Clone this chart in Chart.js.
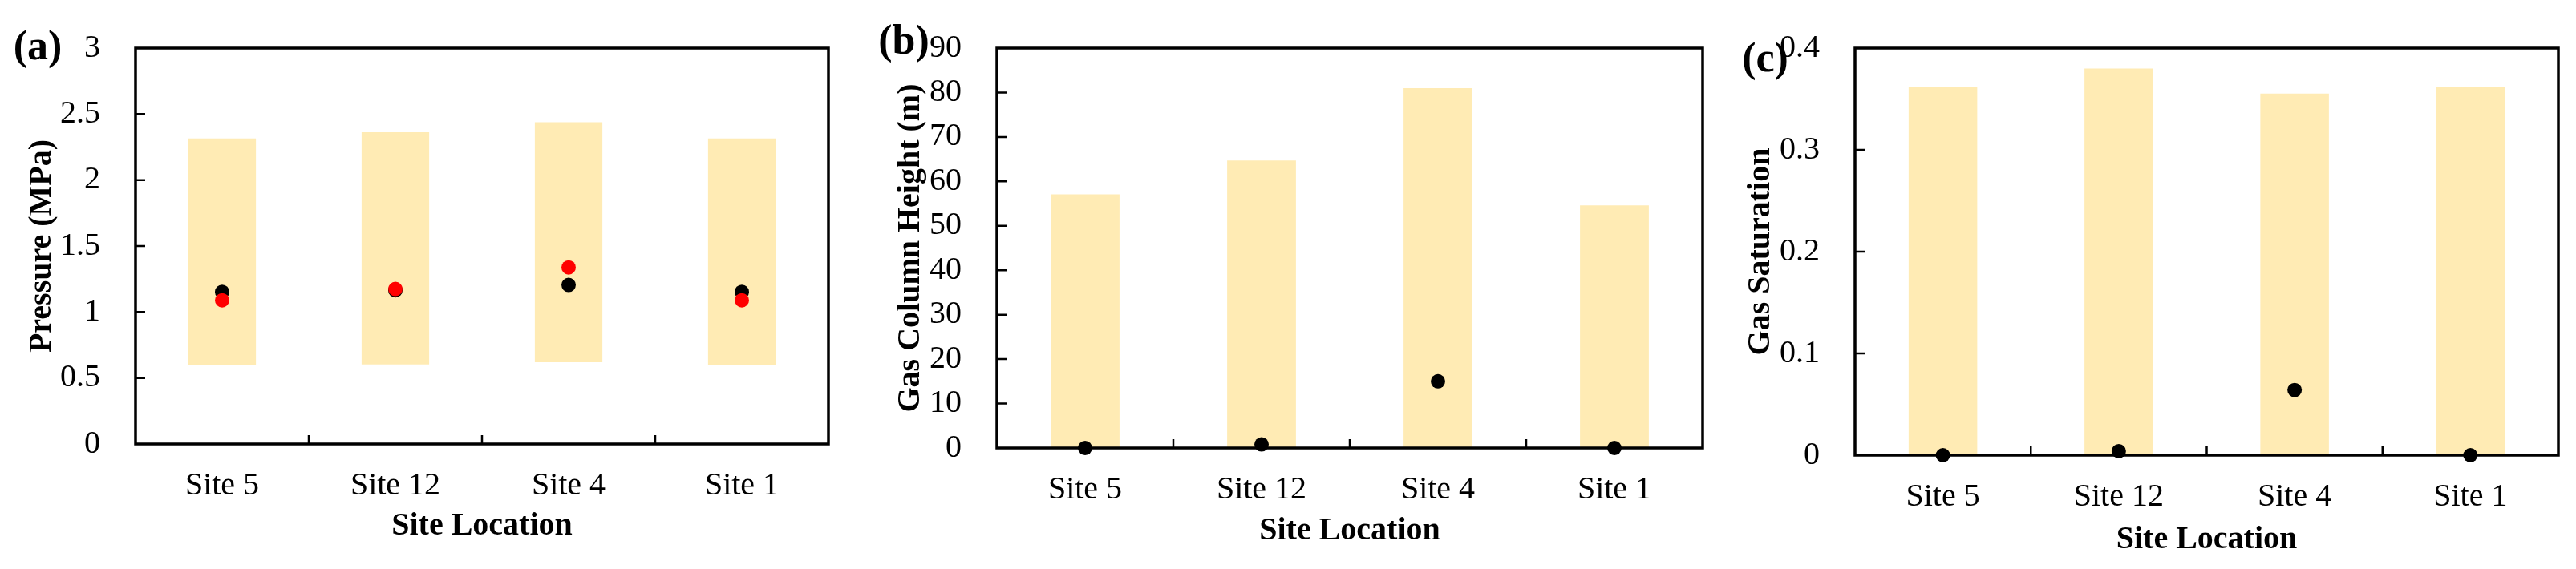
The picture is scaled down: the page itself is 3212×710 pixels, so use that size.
<!DOCTYPE html>
<html>
<head>
<meta charset="utf-8">
<script src="https://cdn.jsdelivr.net/npm/chart.js@4.4.1/dist/chart.umd.min.js"></script>
<style>
  html, body { margin: 0; padding: 0; background: #fff; }
  body { width: 3212px; height: 710px; position: relative; overflow: hidden; }
  canvas { position: absolute; top: 0; }
</style>
</head>
<body>
<canvas id="pa" width="1070" height="710" style="left:0px"></canvas>
<canvas id="pb" width="1070" height="710" style="left:1070px"></canvas>
<canvas id="pc" width="1072" height="710" style="left:2140px"></canvas>
<script>
// sites, in plotted order
var sites = ['Site 5', 'Site 12', 'Site 4', 'Site 1'];

// (a) pressure range (bars) and two point series
var pressLow = [0.595, 0.603, 0.619, 0.595];
var pressHigh = [2.316, 2.362, 2.439, 2.316];
var pressBlack = [1.153, 1.165, 1.205, 1.153];
var pressRed = [1.089, 1.175, 1.338, 1.089];
var pressTicks = [0, 0.5, 1, 1.5, 2, 2.5, 3];

// (b) gas column height
var heightBars = [57.1, 64.7, 81.0, 54.6];
var heightDots = [0, 0.8, 15.0, 0];
var heightTicks = [0, 10, 20, 30, 40, 50, 60, 70, 80, 90];

// (c) gas saturation
var satBars = [0.3616, 0.380, 0.3553, 0.3616];
var satDots = [0, 0.004, 0.064, 0];
var satTicks = [0, 0.1, 0.2, 0.3, 0.4];

const BAR_COLOR = '#FFEBB4';

Chart.defaults.font.family = "'Liberation Serif', 'Times New Roman', serif";
Chart.defaults.font.size = 40;
Chart.defaults.color = '#000';

// frame, inward ticks and the panel letter
const frameTicks = {
  id: 'frameTicks',
  afterDatasetsDraw(chart) {
    const {ctx, chartArea: a, scales: {x, y}} = chart;
    ctx.save();
    ctx.strokeStyle = '#000';
    ctx.lineWidth = 3.5;
    ctx.strokeRect(a.left, a.top, a.right - a.left, a.bottom - a.top);
    ctx.lineWidth = 2.5;
    ctx.beginPath();
    for (let i = 1; i < y.ticks.length - 1; i++) {
      let py = y.getPixelForTick(i);
      ctx.moveTo(a.left, py);
      ctx.lineTo(a.left + 12, py);
    }
    for (let i = 0; i < x.ticks.length - 1; i++) {
      let px = (x.getPixelForTick(i) + x.getPixelForTick(i + 1)) / 2;
      ctx.moveTo(px, a.bottom);
      ctx.lineTo(px, a.bottom - 11);
    }
    ctx.stroke();
    const lab = chart.options.plugins.frameTicks;
    ctx.font = "bold 52px 'Liberation Serif', serif";
    ctx.fillStyle = '#000';
    ctx.textAlign = 'center';
    ctx.textBaseline = 'middle';
    ctx.fillText(lab.text, lab.x, lab.y);
    ctx.restore();
  }
};

function dots(values, color, order) {
  return {
    type: 'line',
    data: values,
    showLine: false,
    pointRadius: 9,
    pointHoverRadius: 9,
    pointBackgroundColor: color,
    pointBorderWidth: 0,
    order: order,
    clip: false
  };
}

function makePanel(id, p) {
  new Chart(document.getElementById(id), {
    type: 'bar',
    data: { labels: sites, datasets: p.datasets },
    plugins: [frameTicks],
    options: {
      responsive: false,
      animation: false,
      events: [],
      layout: { padding: { left: 0, top: p.top, right: p.right, bottom: 0 } },
      plugins: {
        legend: { display: false },
        tooltip: { enabled: false },
        frameTicks: p.label
      },
      scales: {
        x: {
          grid: { display: false },
          border: { display: false },
          ticks: { padding: 20 },
          title: { display: true, text: 'Site Location', font: { weight: 'bold', size: 40 }, padding: { top: 0, bottom: p.xTitlePad } },
          afterFit(s) { s.height = p.xHeight; }
        },
        y: {
          min: p.ticks[0],
          max: p.ticks[p.ticks.length - 1],
          grid: { display: false },
          border: { display: false },
          ticks: { padding: 36, callback: v => String(parseFloat(v.toFixed(4))) },
          afterBuildTicks(s) { s.ticks = p.ticks.map(v => ({ value: v })); },
          title: { display: true, text: p.yTitle, font: { weight: 'bold', size: 40 }, padding: { top: p.yTitlePad, bottom: 0 } },
          afterFit(s) { s.width = p.yWidth || 173; }
        }
      }
    }
  });
}

makePanel('pa', {
  datasets: [
    { data: pressLow.map((l, i) => [l, pressHigh[i]]), backgroundColor: BAR_COLOR, barPercentage: 0.39, categoryPercentage: 1.0, order: 3 },
    dots(pressBlack, '#000', 2),
    dots(pressRed, '#FF0000', 1)
  ],
  ticks: pressTicks, yTitle: 'Pressure (MPa)',
  top: 38, right: 37, xHeight: 156, yWidth: 169, xTitlePad: 29, yTitlePad: 29,
  label: { text: '(a)', x: 47, y: 61 }
});

makePanel('pb', {
  datasets: [
    { data: heightBars, backgroundColor: BAR_COLOR, barPercentage: 0.39, categoryPercentage: 1.0, order: 3 },
    dots(heightDots, '#000', 1)
  ],
  ticks: heightTicks, yTitle: 'Gas Column Height (m)',
  top: 41, right: 17, xHeight: 151, xTitlePad: 23, yTitlePad: 42,
  label: { text: '(b)', x: 57, y: 54 }
});

makePanel('pc', {
  datasets: [
    { data: satBars, backgroundColor: BAR_COLOR, barPercentage: 0.39, categoryPercentage: 1.0, order: 3 },
    dots(satDots, '#000', 1)
  ],
  ticks: satTicks, yTitle: 'Gas Saturation',
  top: 46, right: 22, xHeight: 142, xTitlePad: 12, yTitlePad: 32,
  label: { text: '(c)', x: 61, y: 76 }
});
</script>
</body>
</html>
